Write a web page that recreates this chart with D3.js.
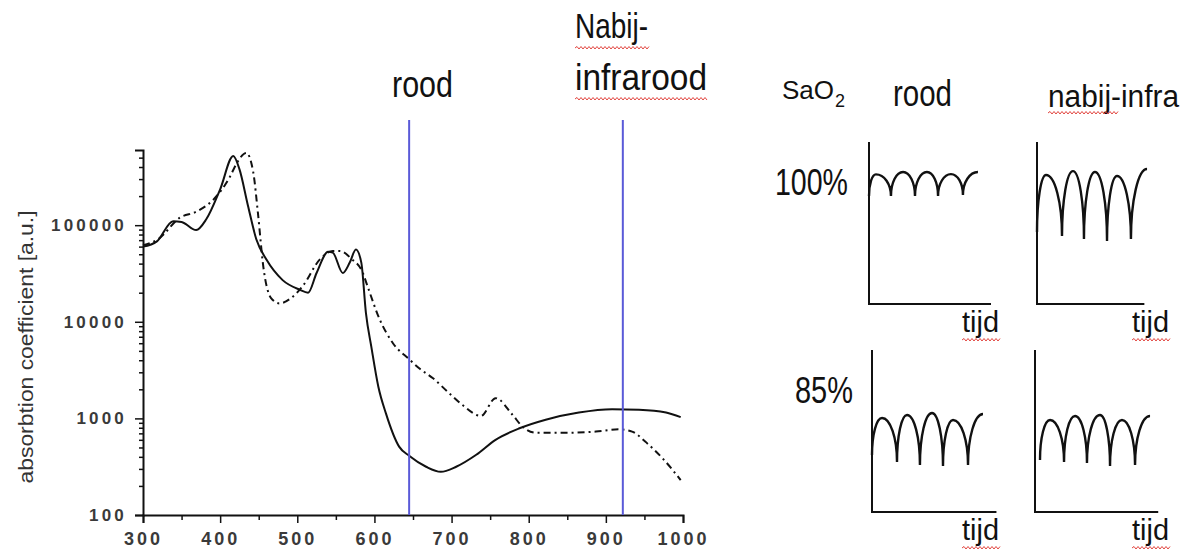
<!DOCTYPE html>
<html>
<head>
<meta charset="utf-8">
<script src="https://cdn.jsdelivr.net/npm/d3@7"></script>
<style>
  body { margin: 0; background: #fff; }
  text { font-family: "Liberation Sans", Arial, sans-serif; }
  .narrow { font-family: "Liberation Sans Narrow", "Arial Narrow", "Liberation Sans", sans-serif; fill: #111; }
</style>
</head>
<body>
<div id="Canvas"></div>
<script>
// absorptiespectrum - doorgetrokken lijn (HbO2)
const oxyWl  = [300, 318, 339, 350, 369, 382, 400, 417, 425, 436, 447, 460, 481, 503, 514, 525, 540, 546, 559, 568, 576, 583, 589, 596, 605, 615, 632, 645, 667, 686, 706, 732, 757, 788, 822, 865, 908, 943, 978, 997]
const oxyAbs = [60000, 68000, 110000, 108000, 89000, 115000, 235000, 520000, 380000, 160000, 71000, 44000, 27000, 21500, 20000, 32000, 53000, 52000, 32000, 41000, 56000, 41000, 12300, 5500, 2140, 1120, 510, 410, 316, 280, 316, 420, 600, 790, 970, 1150, 1245, 1230, 1150, 1030]
// gestreepte lijn (Hb)
const deoxyWl  = [300, 320, 348, 369, 391, 413, 421, 434, 443, 449, 456, 466, 477, 492, 507, 529, 546, 555, 570, 585, 591, 607, 624, 645, 658, 676, 697, 714, 738, 757, 779, 792, 809, 848, 887, 917, 934, 951, 973, 997]
const deoxyAbs = [62000, 72000, 120000, 138000, 183000, 320000, 430000, 560000, 350000, 133000, 37000, 17600, 15500, 17600, 23400, 44000, 54000, 54000, 45000, 32000, 23400, 10500, 6000, 4100, 3300, 2600, 1820, 1380, 1060, 1620, 1090, 820, 710, 710, 730, 770, 730, 575, 390, 230]
// blauwe lijnen
const markerWl = [645, 922]
const xTicks = [300, 400, 500, 600, 700, 800, 900, 1000]
const xMinor = [350, 450, 550, 650, 750, 850, 950]
const yTicks = [100, 1000, 10000, 100000]
const yMinor = [200,300,400,500,600,700,800,900,2000,3000,4000,5000,6000,7000,8000,9000,
                20000,30000,40000,50000,60000,70000,80000,90000,200000,300000,400000,500000]

// pulsgolven [tijd, signaal]
const waveRood100  = [[0,6.67],[0.57,8.0],[1.8,6.67],[2.79,8.15],[3.77,6.67],[4.75,8.15],[5.66,6.67],[6.72,8.02],[7.7,6.73],[8.93,8.15]]
const waveInfra100 = [[0,4.44],[0.74,7.96],[2.05,4.2],[2.95,8.2],[3.85,4.01],[4.75,8.15],[5.74,3.89],[6.56,7.9],[7.7,4.01],[9.02,8.33]]
const waveRood85   = [[0,3.52],[0.82,5.8],[2.05,3.09],[2.87,5.99],[3.93,2.9],[4.92,6.11],[5.82,2.84],[6.64,5.68],[7.87,2.9],[9.1,6.05]]
const waveInfra85  = [[0.41,3.21],[1.23,5.68],[2.38,3.09],[3.28,5.93],[4.26,3.02],[5.33,5.99],[6.15,2.84],[7.13,5.68],[8.2,2.9],[9.43,5.93]]

let svg = d3.select("#Canvas")
    .append("svg")
    .attr('width', 1188)
    .attr('height', 552)

svg.append("rect").attr("width", 1188).attr("height", 552).attr("fill", "#fff")

//schalen
let xScale = d3.scaleLinear()
    .domain([300, 1000])
    .range([143, 683])
let yScale = d3.scaleLog()
    .domain([100, 600000])
    .range([515, 150])

//assen
let yAxis = svg.append("g")
    .attr("transform", "translate(143,0)")
    .call(d3.axisLeft(yScale).tickValues(yTicks).tickSize(8).tickPadding(8).tickFormat(d3.format("d")))
svg.append("g")
    .attr("transform", "translate(143,0)")
    .call(d3.axisLeft(yScale).tickValues(yMinor).tickSize(4).tickFormat(""))
    .select(".domain").remove()
let xAxis = svg.append("g")
    .attr("transform", "translate(0,515)")
    .call(d3.axisBottom(xScale).tickValues(xTicks).tickSize(8).tickPadding(9).tickFormat(d3.format("d")))
svg.append("g")
    .attr("transform", "translate(0,515)")
    .call(d3.axisBottom(xScale).tickValues(xMinor).tickSize(5).tickFormat(""))
    .select(".domain").remove()

svg.selectAll(".domain").attr("stroke", "#111").attr("stroke-width", 2)
svg.selectAll(".tick line").attr("stroke", "#111").attr("stroke-width", 1.5)
yAxis.selectAll("text").attr("font-size", 17).attr("font-weight", "bold").attr("letter-spacing", 3.2).attr("fill", "#3a3a3a")
xAxis.selectAll("text").attr("font-size", 18).attr("font-weight", "bold").attr("letter-spacing", 3).attr("fill", "#3a3a3a")

svg.append("text")
    .attr("transform", "translate(33,347) rotate(-90)")
    .attr("text-anchor", "middle")
    .attr("font-size", 21)
    .attr("fill", "#333")
    .attr("textLength", 273)
    .attr("lengthAdjust", "spacingAndGlyphs")
    .text("absorbtion coefficient [a.u.]")

//curves
let line = d3.line()
    .x(d => xScale(d[0]))
    .y(d => yScale(d[1]))
    .curve(d3.curveMonotoneX)

svg.append("path")
    .datum(deoxyWl.map((w, i) => [w, deoxyAbs[i]]))
    .attr("d", line)
    .attr("fill", "none")
    .attr("stroke", "#111")
    .attr("stroke-width", 2)
    .attr("stroke-dasharray", "7,4,2,4")
svg.append("path")
    .datum(oxyWl.map((w, i) => [w, oxyAbs[i]]))
    .attr("d", line)
    .attr("fill", "none")
    .attr("stroke", "#111")
    .attr("stroke-width", 2)

//blauwe lijnen
svg.selectAll(".marker")
    .data(markerWl)
    .enter()
    .append("line")
    .attr("x1", d => xScale(d))
    .attr("x2", d => xScale(d))
    .attr("y1", yScale(600000) - 30)
    .attr("y2", yScale(100))
    .attr("stroke", "#5a5ad8")
    .attr("stroke-width", 2)

//teksten
function label(txt, x, y, size, len) {
    let t = svg.append("text")
        .attr("class", "narrow")
        .attr("x", x).attr("y", y)
        .attr("font-size", size)
        .text(txt)
    if (len) t.attr("textLength", len).attr("lengthAdjust", "spacingAndGlyphs")
    return t
}
//rood kronkel lijntje (spellingcontrole)
function squiggle(x1, x2, y) {
    let p = d3.path()
    p.moveTo(x1, y)
    let up = true
    for (let x = x1 + 2; x <= x2; x += 2) {
        p.lineTo(x, up ? y - 1.5 : y + 1)
        up = !up
    }
    svg.append("path").attr("d", p.toString()).attr("fill", "none")
        .attr("stroke", "#e2453f").attr("stroke-width", 1)
}

label("rood", 392, 97, 37, 61)
label("Nabij-", 575, 38, 35, 73)
label("infrarood", 575, 90, 37, 132)
squiggle(575, 650, 48)
squiggle(575, 707, 99)

//SaO2 met subscript in een tekst
let sao = svg.append("text").attr("class", "narrow").attr("x", 782).attr("y", 99).attr("font-size", 26)
sao.append("tspan").text("SaO")
sao.append("tspan").text("2").attr("font-size", 18).attr("dx", 1).attr("dy", 8)

label("rood", 893, 106, 36, 59)
label("nabij-infra", 1048, 107, 31, 131)
squiggle(1048, 1118, 113)
label("100%", 775, 195, 36, 73)
label("85%", 795, 403, 36, 58)

//kleine grafieken
const panels = [
    {wave: waveRood100,  x0: 869,  y0: 304, tEnd: 10,   tx: 962},
    {wave: waveInfra100, x0: 1037, y0: 304, tEnd: 8.8,  tx: 1132},
    {wave: waveRood85,   x0: 872,  y0: 512, tEnd: 10.2, tx: 962},
    {wave: waveInfra85,  x0: 1035, y0: 512, tEnd: 10.1, tx: 1132}
]

function wavePath(pts, xs, ys) {
    let p = d3.path()
    pts.forEach((d, i) => {
        let x = xs(d[0]), y = ys(d[1])
        if (i == 0) { p.moveTo(x, y); return }
        let x0 = xs(pts[i-1][0]), y0 = ys(pts[i-1][1])
        let k = 0.55
        if (y < y0) {
            //omhoog: verticaal bij dal, horizontaal bij top
            p.bezierCurveTo(x0, y0 + (y - y0) * k, x - (x - x0) * k, y, x, y)
        } else {
            p.bezierCurveTo(x0 + (x - x0) * k, y0, x, y - (y - y0) * k, x, y)
        }
    })
    return p.toString()
}

panels.forEach(pn => {
    let ts = d3.scaleLinear().domain([0, 10]).range([pn.x0, pn.x0 + 122])
    let ss = d3.scaleLinear().domain([0, 10]).range([pn.y0, pn.y0 - 162])
    let g = svg.append("g")
    g.append("path")
        .attr("d", d3.line()([[ts(0), ss(10)], [ts(0), ss(0)], [ts(pn.tEnd), ss(0)]]))
        .attr("fill", "none").attr("stroke", "#111").attr("stroke-width", 2)
    g.append("path")
        .attr("d", wavePath(pn.wave, ts, ss))
        .attr("fill", "none").attr("stroke", "#111").attr("stroke-width", 2.4)
    label("tijd", pn.tx, pn.y0 + 28, 30, 37)
    squiggle(pn.tx, pn.tx + 38, pn.y0 + 36)
})
</script>
</body>
</html>
